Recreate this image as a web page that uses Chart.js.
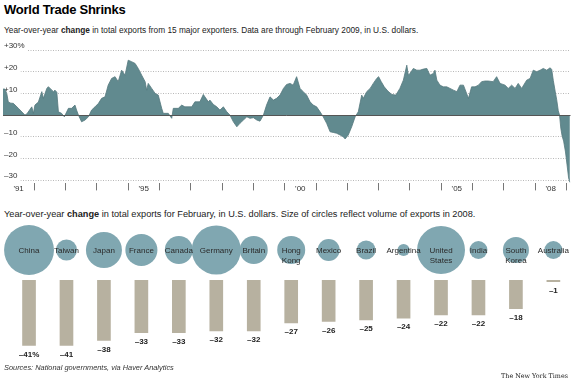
<!DOCTYPE html>
<html lang="en">
<head>
  <meta charset="UTF-8">
  <title>World Trade Shrinks</title>
  <script src="https://cdn.jsdelivr.net/npm/chart.js"></script>
  <style>
    body { margin: 0; background: #fff; font-family: "Liberation Sans", Arial, sans-serif; color: #222; }
    .wrap { position: relative; width: 576px; height: 383px; overflow: hidden; }
    .wrap canvas { position: absolute; left: 0; }
    .txt { position: absolute; left: 4px; white-space: nowrap; }
    .title { top: 2px; font-size: 13px; line-height: 15px; font-weight: bold; letter-spacing: -0.25px; color: #000; }
    .sub { font-size: 8.3px; line-height: 10px; color: #222; }
    .sub2 { font-size: 9.2px; line-height: 10px; color: #222; }
    .src { top: 363px; font-size: 7.4px; line-height: 10px; font-style: italic; color: #333; }
    .nyt { position: absolute; right: 8px; top: 371px; font-family: "DejaVu Serif", serif; font-size: 6.4px; line-height: 10px; color: #222; }
  </style>
</head>
<body>
<div class="wrap">
  <div class="txt title">World Trade Shrinks</div>
  <div class="txt sub" style="top:25px">Year-over-year <b>change</b> in total exports from 15 major exporters. Data are through February 2009, in U.S. dollars.</div>
  <canvas id="trend" width="576" height="164" style="top:36px"></canvas>
  <div class="txt sub2" style="top:209px">Year-over-year <b>change</b> in total exports for February, in U.S. dollars. Size of circles reflect volume of exports in 2008.</div>
  <canvas id="circles" width="576" height="56" style="top:222px"></canvas>
  <canvas id="bars" width="576" height="90" style="top:280px"></canvas>
  <div class="txt src">Sources: National governments, via Haver Analytics</div>
  <div class="nyt">The New York Times</div>
</div>

<script>
  // monthly-ish readings of the year-over-year change, % (decimal years)
  const tradeDates = [
    1991.00, 1991.06, 1991.12, 1991.17, 1991.25, 1991.33, 1991.50, 1991.70, 1991.76, 1991.92, 1991.97,
    1992.02, 1992.13, 1992.24, 1992.29, 1992.40, 1992.45, 1992.56, 1992.61, 1992.66, 1992.72, 1992.77, 1992.87, 1992.96,
    1993.09, 1993.19, 1993.30, 1993.35, 1993.41, 1993.51, 1993.62, 1993.73, 1993.83, 1993.94,
    1994.05, 1994.15, 1994.26, 1994.36, 1994.47, 1994.58, 1994.68, 1994.79, 1994.90,
    1995.00, 1995.11, 1995.22, 1995.32, 1995.43, 1995.54, 1995.59, 1995.64, 1995.75, 1995.86, 1995.96,
    1996.07, 1996.12, 1996.28, 1996.39, 1996.44, 1996.60, 1996.71, 1996.81,
    1997.03, 1997.13, 1997.29, 1997.40, 1997.45, 1997.56, 1997.61, 1997.72, 1997.83, 1997.93,
    1998.04, 1998.15, 1998.25, 1998.36, 1998.47, 1998.57, 1998.68, 1998.79, 1998.89,
    1999.00, 1999.11, 1999.21, 1999.32, 1999.42, 1999.53, 1999.64, 1999.74, 1999.85, 1999.96,
    2000.06, 2000.17, 2000.27, 2000.38, 2000.49, 2000.59, 2000.70, 2000.81, 2000.91,
    2001.02, 2001.13, 2001.23, 2001.34, 2001.45, 2001.55, 2001.66, 2001.77, 2001.87, 2001.93,
    2002.03, 2002.14, 2002.25, 2002.35, 2002.46, 2002.51, 2002.62, 2002.73, 2002.83, 2002.94,
    2003.00, 2003.08, 2003.18, 2003.30, 2003.42, 2003.55, 2003.68, 2003.79, 2003.90, 2003.95,
    2004.00, 2004.11, 2004.22, 2004.32, 2004.43, 2004.54, 2004.64, 2004.75, 2004.80, 2004.86, 2004.96,
    2005.07, 2005.18, 2005.28, 2005.39, 2005.50, 2005.60, 2005.71, 2005.81, 2005.87, 2005.97,
    2006.08, 2006.19, 2006.29, 2006.40, 2006.50, 2006.66, 2006.77, 2006.88,
    2007.04, 2007.14, 2007.25, 2007.36, 2007.46, 2007.57, 2007.73, 2007.84, 2007.94,
    2008.05, 2008.16, 2008.26, 2008.37, 2008.48, 2008.53, 2008.58, 2008.64, 2008.69, 2008.74, 2008.78,
    2008.82, 2008.86, 2008.91, 2008.97, 2009.02, 2009.07, 2009.11
  ];
  const tradeChange = [
    12, 12, 10, 6, 5.5, 5.4, 3, 0, 0.5, 3.8, 0.8,
    4.6, 6, 10.8, 7.7, 12.3, 13.1, 11.5, 10.8, 11.5, 10.5, 1.5, 0.8, -0.8,
    3.1, 3.1, 4.6, 2.3, 0, -3.1, -2.3, -0.8, 2.3, 3.8,
    5.4, 7.7, 8.4, 13.8, 16.9, 17.7, 15.4, 20.7, 18.4,
    25.3, 24.6, 23.8, 21.5, 18.4, 15.4, 11.5, 14.6, 12.3, 10, 9.2,
    3.1, 0.8, 0.8, -1.5, 3.1, 3.1, 4.6, 3.8,
    3.8, 6.1, 6.1, 9.5, 8.4, 6.1, 6.9, 4.9, 3.8, 2.3,
    3.8, 1.5, 0, -3.1, -5.4, -3.8, -2.3, -0.8, -1.5,
    -1.2, -2.3, -2.8, 0, 4.6, 8.4, 6.9, 7.7, 9.2, 12.3,
    14.1, 14.6, 13.8, 17.7, 12.3, 10.8, 9.2, 6.1, 4.6,
    3.8, 1.5, -0.8, -3.8, -7.7, -8, -8.4, -9.2, -10, -11,
    -9.2, -5.4, -0.8, 1.5, 9.2, 7.7, 10.8, 12.3, 14.6, 16.9,
    17.7, 15.5, 13, 11, 9.5, 9.2, 12.3, 16.1, 23, 18.4,
    19.2, 21.5, 20.7, 20.7, 21.2, 21.5, 18.4, 19.2, 20.7, 16.1, 13.8,
    13, 13, 12.3, 11.5, 10.8, 13.8, 13.8, 10, 7.7, 13,
    13, 13.8, 15.4, 15.7, 15.7, 15.4, 17.7, 14.6,
    13.8, 12.3, 13.8, 12.3, 14.6, 12.3, 16.1, 16.9, 20.7,
    20, 20.7, 21.5, 20.7, 21.8, 21, 16, 11, 7, 2, 0,
    -6, -9.5, -12, -17, -23, -29, -31
  ];
  const yTicks = [-30, -20, -10, 0, 10, 20, 30];
  const yearTicks = [1991, 1992, 1993, 1994, 1995, 1996, 1997, 1998, 1999, 2000,
                     2001, 2002, 2003, 2004, 2005, 2006, 2007, 2008, 2009];
  const yearLabels = { 1991: "'91", 1995: "'95", 2000: "'00", 2005: "'05", 2008: "'08" };

  // February change by exporter
  const countries = ['China', 'Taiwan', 'Japan', 'France', 'Canada', 'Germany', 'Britain', 'Hong Kong',
                     'Mexico', 'Brazil', 'Argentina', 'United States', 'India', 'South Korea', 'Australia'];
  const febChange = [-41, -41, -38, -33, -33, -32, -32, -27, -26, -25, -24, -22, -22, -18, -1];
  // 2008 export volume, billions of dollars (estimated from circle areas)
  const exports2008 = [1430, 255, 745, 590, 450, 1380, 450, 450, 280, 205, 85, 1320, 185, 390, 185];

  Chart.defaults.font.family = '"Liberation Sans", Arial, sans-serif';
  Chart.defaults.color = '#333';

  const minus = v => (v < 0 ? '\u2013' + Math.abs(v) : (v > 0 ? '+' + v : ''));

  // zero line over the area
  const zeroLine = {
    id: 'zeroLine',
    afterDatasetsDraw(chart) {
      const { ctx, chartArea, scales } = chart;
      const py = Math.round(scales.y.getPixelForValue(0)) + 0.5;
      ctx.save();
      ctx.strokeStyle = '#555';
      ctx.lineWidth = 1;
      ctx.beginPath();
      ctx.moveTo(chartArea.left, py);
      ctx.lineTo(chartArea.right, py);
      ctx.stroke();
      ctx.restore();
    }
  };

  new Chart(document.getElementById('trend'), {
    type: 'line',
    data: {
      datasets: [{
        data: tradeDates.map((x, i) => ({ x: x, y: tradeChange[i] })),
        fill: 'origin',
        backgroundColor: '#618a8f',
        borderColor: '#56797e',
        borderWidth: 0.8,
        pointRadius: 0,
        tension: 0
      }]
    },
    options: {
      responsive: false,
      animation: false,
      events: [],
      layout: { padding: { left: 3, right: 5.5, top: 14, bottom: 0 } },
      plugins: { legend: { display: false }, tooltip: { enabled: false } },
      scales: {
        x: {
          type: 'linear', min: 1991, max: 2009.13,
          afterBuildTicks: s => { s.ticks = yearTicks.map(v => ({ value: v })); },
          afterFit: s => { s.height = 16.6; },
          grid: {
            drawOnChartArea: false, tickLength: 7,
            tickColor: ctx => (ctx.tick && ctx.tick.value === 1991 ? 'rgba(0,0,0,0)' : '#777')
          },
          border: { display: false },
          ticks: {
            autoSkip: false, maxRotation: 0, padding: -6, labelOffset: 15.6,
            font: { size: 8 }, color: '#333',
            callback: v => yearLabels[v] || ''
          }
        },
        y: {
          min: -31.5, max: 30,
          afterBuildTicks: s => { s.ticks = yTicks.map(v => ({ value: v })); },
          afterFit: s => { s.width = 0; },
          grid: { color: '#b8b8b8', drawTicks: false, lineWidth: 1 },
          border: { display: false, dash: [1, 1.5] },
          ticks: {
            mirror: true, padding: 1, labelOffset: -4,
            font: { size: 8 }, color: '#333',
            showLabelBackdrop: true, backdropColor: '#fff',
            backdropPadding: { top: 0, bottom: 2, left: 1, right: 3 },
            callback: v => (v === 30 ? '+30%' : minus(v))
          }
        }
      }
    },
    plugins: [zeroLine]
  });

  // names inside the circles, second word on a new line
  const circleLabels = {
    id: 'circleLabels',
    afterDatasetsDraw(chart) {
      const { ctx } = chart;
      const meta = chart.getDatasetMeta(0);
      ctx.save();
      ctx.font = '8px "Liberation Sans", Arial, sans-serif';
      ctx.fillStyle = '#2a2a2a';
      ctx.textAlign = 'center';
      ctx.textBaseline = 'middle';
      meta.data.forEach((pt, i) => {
        countries[i].split(' ').forEach((w, j) => {
          ctx.fillText(w, pt.x, pt.y + 1 + j * 9.5);
        });
      });
      ctx.restore();
    }
  };

  new Chart(document.getElementById('circles'), {
    type: 'bubble',
    data: {
      labels: countries,
      datasets: [{
        data: countries.map((c, i) => ({ x: c, y: 0, r: Math.sqrt(exports2008[i]) * 0.66 })),
        backgroundColor: '#80a7b1',
        borderWidth: 0,
        clip: false
      }]
    },
    options: {
      responsive: false,
      animation: false,
      events: [],
      layout: { autoPadding: false, padding: { left: 10.3, right: 3.9, top: 0, bottom: 0 } },
      plugins: { legend: { display: false }, tooltip: { enabled: false } },
      scales: {
        x: { type: 'category', offset: true, display: false },
        y: { min: -1, max: 1, display: false }
      }
    },
    plugins: [circleLabels]
  });

  // value under each bar
  const barLabels = {
    id: 'barLabels',
    afterDatasetsDraw(chart) {
      const { ctx } = chart;
      const meta = chart.getDatasetMeta(0);
      ctx.save();
      ctx.font = 'bold 8px "Liberation Sans", Arial, sans-serif';
      ctx.fillStyle = '#222';
      ctx.textAlign = 'center';
      ctx.textBaseline = 'middle';
      meta.data.forEach((bar, i) => {
        const txt = '\u2013' + Math.abs(febChange[i]) + (i === 0 ? '%' : '');
        ctx.fillText(txt, bar.x, bar.y + 9);
      });
      ctx.restore();
    }
  };

  new Chart(document.getElementById('bars'), {
    type: 'bar',
    data: {
      labels: countries,
      datasets: [{ data: febChange, backgroundColor: '#b7b1a0', barThickness: 13 }]
    },
    options: {
      responsive: false,
      animation: false,
      events: [],
      layout: { padding: { left: 10.3, right: 3.9, top: 0, bottom: 0 } },
      plugins: { legend: { display: false }, tooltip: { enabled: false } },
      scales: {
        x: { display: false },
        y: { display: false, min: -56.5, max: 0 }
      }
    },
    plugins: [barLabels]
  });
</script>
</body>
</html>
